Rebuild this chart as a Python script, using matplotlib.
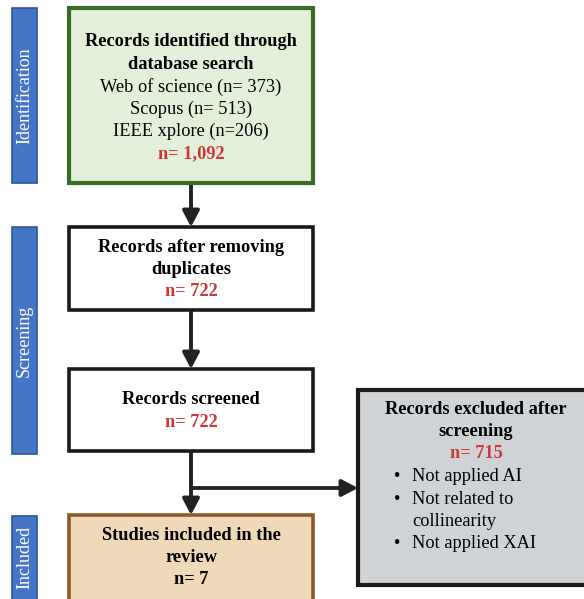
import matplotlib.pyplot as plt
from matplotlib.patches import Rectangle, FancyArrowPatch

# stage labels on the left
stages = ["Identification", "Screening", "Included"]
stage_spans = [(8, 183), (227, 454), (516, 610)]

# box texts: (text, style) per line, style: h=heading, n=normal, r=red count, k=black count
ident_lines = [("Records identified through", "h"), ("database search", "h"),
               ("Web of science (n= 373)", "n"), ("Scopus (n= 513)", "n"),
               ("IEEE xplore (n=206)", "n"), ("n= 1,092", "r")]
dedup_lines = [("Records after removing", "h"), ("duplicates", "h"), ("n= 722", "r")]
screen_lines = [("Records screened", "h"), ("n= 722", "r")]
excl_lines = [("Records excluded after", "h"), ("screening", "h"), ("n= 715", "r")]
excl_reasons = [["Not applied AI"], ["Not related to", "collinearity"], ["Not applied XAI"]]
incl_lines = [("Studies included in the", "h"), ("review", "h"), ("n= 7", "k")]

FONT = "Liberation Serif"
FS = 13.2
LINE = 22.3
RED = "#cf3636"

fig = plt.figure(figsize=(5.84, 5.99), dpi=100)
ax = fig.add_axes([0, 0, 1, 1])
ax.set_xlim(0, 584)
ax.set_ylim(599, 0)
ax.axis("off")


def box(x0, y0, x1, y1, fc, ec, lw=2.6):
    ax.add_patch(Rectangle((x0, y0), x1 - x0, y1 - y0, facecolor=fc, edgecolor=ec,
                           linewidth=lw, zorder=2))


def lines_at(x, y0, lines):
    for i, (t, s) in enumerate(lines):
        color = RED if s == "r" else "black"
        weight = "normal" if s == "n" else "bold"
        ax.text(x, y0 + i * LINE, t, ha="center", va="center", fontsize=FS,
                fontfamily=FONT, fontweight=weight, color=color, zorder=3)


def arrow(x0, y0, x1, y1, head=True):
    style = "-|>,head_length=0.8,head_width=0.42" if head else "-"
    ax.add_patch(FancyArrowPatch((x0, y0), (x1, y1), arrowstyle=style,
                                 mutation_scale=12, color="#222222", linewidth=2.8,
                                 shrinkA=0, shrinkB=0, zorder=1))


# stage bars
for name, (top, bot) in zip(stages, stage_spans):
    ax.add_patch(Rectangle((12, top), 25, bot - top, facecolor="#4575c5",
                           edgecolor="#2f5597", linewidth=1.2, zorder=2))
    cy = (top + min(bot, 599)) / 2
    if name == "Included":
        cy = 557
    ax.text(24.5, cy, name, rotation=90, ha="center", va="center", color="white",
            fontsize=13, fontfamily=FONT, zorder=3)

# boxes
box(69, 8, 313, 183, "#e2f0d9", "#3b6b25", 3)
lines_at(191, 42, ident_lines)

box(69, 227, 313, 310, "white", "#1a1a1a")
lines_at(191, 247, dedup_lines)

box(69, 369, 313, 451, "white", "#1a1a1a")
lines_at(191, 400, screen_lines)

box(358, 390, 590, 585, "#d0d3d6", "#1a1a1a", 3)
lines_at(476, 409, excl_lines)
y = 409 + 3 * LINE + 1
for reason in excl_reasons:
    ax.text(397, y, "\u2022", ha="center", va="center", fontsize=FS,
            fontfamily=FONT, zorder=3)
    for part in reason:
        ax.text(412, y, part, ha="left", va="center", fontsize=FS,
                fontfamily=FONT, zorder=3)
        y += LINE

box(69, 515, 313, 610, "#f0d9b8", "#8b5a2b")
lines_at(191, 535, incl_lines)

# arrows
arrow(191, 183, 191, 227)
arrow(191, 310, 191, 369)
arrow(191, 451, 191, 515)
arrow(191, 488, 358, 488)

fig.savefig("out.png", dpi=100)
